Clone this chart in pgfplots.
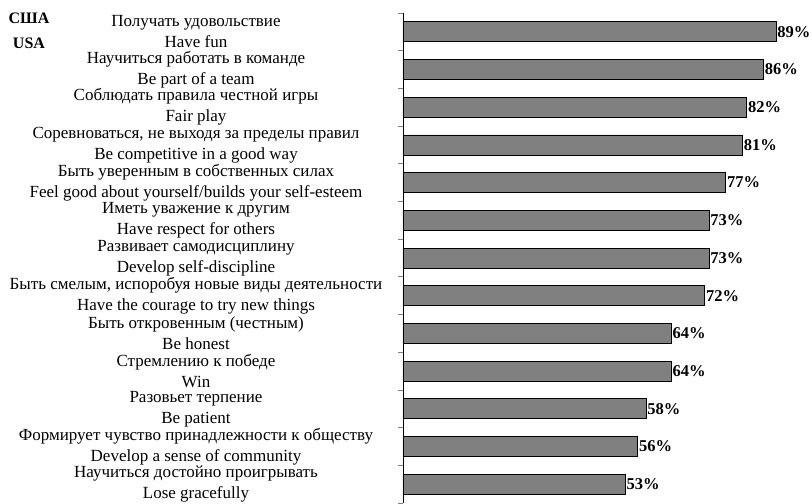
\documentclass[border=0pt]{standalone}
\usepackage{pgfplots}
\pgfplotsset{compat=1.18}
\usepackage{fontspec}
\setmainfont{Liberation Serif}
\begin{document}
\begin{tikzpicture}
\begin{axis}[
  scale only axis,
  width=373pt, height=490pt,
  xbar, bar width=0.53,
  xmin=0, xmax=89,
  ymin=-0.5, ymax=12.5,
  y dir=reverse,
  hide x axis,
  axis y line*=left,
  ytick={0,...,12},
  major tick length=0pt,
  minor ytick={-0.5,0.5,...,12.5},
  minor tick length=5pt,
  tick align=outside,
  yticklabels={
    {Получать удовольствие\\[1pt]Have fun},
    {Научиться работать в команде\\[1pt]Be part of a team},
    {Соблюдать правила честной игры\\[1pt]Fair play},
    {Соревноваться, не выходя за пределы правил\\[1pt]Be competitive in a good way},
    {Быть уверенным в собственных силах\\[1pt]Feel good about yourself/builds your self-esteem},
    {Иметь уважение к другим\\[1pt]Have respect for others},
    {Развивает самодисциплину\\[1pt]Develop self-discipline},
    {Быть смелым, испоробуя новые виды деятельности\\[1pt]Have the courage to try new things},
    {Быть откровенным (честным)\\[1pt]Be honest},
    {Стремлению к победе\\[1pt]Win},
    {Разовьет терпение\\[1pt]Be patient},
    {Формирует чувство принадлежности к обществу\\[1pt]Develop a sense of community},
    {Научиться достойно проигрывать\\[1pt]Lose gracefully}
  },
  yticklabel style={align=center, anchor=center, xshift=-207pt, inner sep=0pt, font=\fontsize{17pt}{20pt}\selectfont},
  /pgf/number format/assume math mode=true,
  nodes near coords={\pgfmathprintnumber{\pgfplotspointmeta}\%},
  nodes near coords style={font=\bfseries\fontsize{16.5pt}{16.5pt}\selectfont, anchor=west, inner sep=1pt},
  clip=false,
  axis line style={black, line width=0.8pt},
  minor tick style={line width=0.8pt},
]
\addplot[fill=black!50, draw=black, line width=0.8pt] coordinates {
  (89,0) (86,1) (82,2) (81,3) (77,4) (73,5) (73,6) (72,7) (64,8) (64,9) (58,10) (56,11) (53,12)
};
\node[font=\bfseries\fontsize{16pt}{16pt}\selectfont, anchor=center] at (axis description cs:0,1) [xshift=-374pt, yshift=-5pt] {США};
\node[font=\bfseries\fontsize{16pt}{16pt}\selectfont, anchor=center] at (axis description cs:0,1) [xshift=-374pt, yshift=-30pt] {USA};
\coordinate (TL) at (axis description cs:0,1);
\coordinate (BL) at (axis description cs:0,0);
\end{axis}
\path ([xshift=-403pt, yshift=13pt]TL) rectangle ([xshift=409pt]BL);
\end{tikzpicture}
\end{document}
